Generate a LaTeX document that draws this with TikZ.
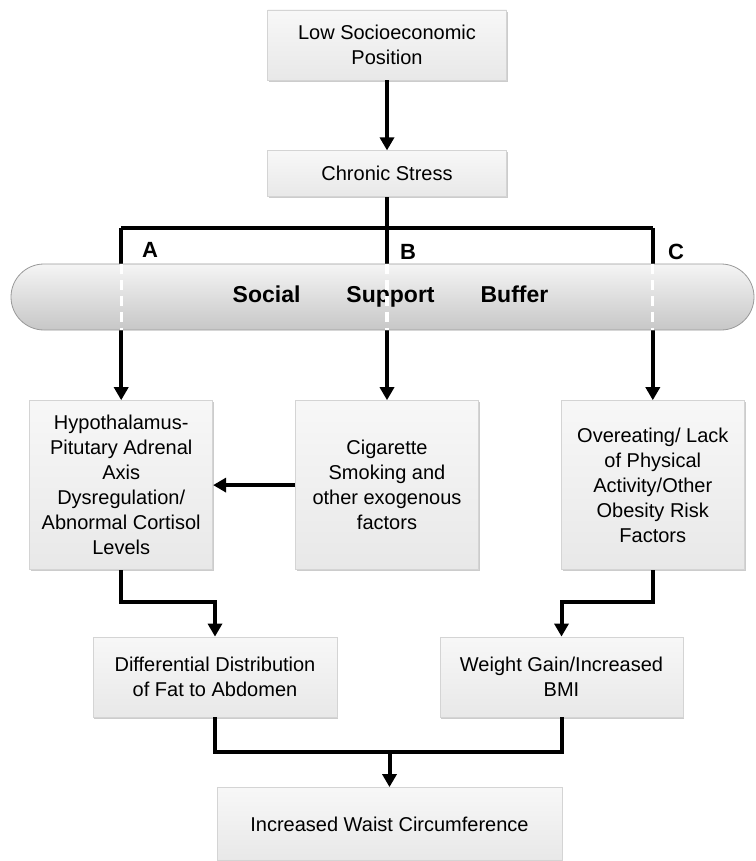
\documentclass[tikz,border=0pt]{standalone}
\usepackage{fontspec}
\setmainfont{Liberation Sans}
\usepackage{xcolor}
\usetikzlibrary{positioning,calc,shadows}
\usetikzlibrary{arrows.meta}

\tikzset{
  box/.style={draw=black!17, top color=black!3, bottom color=black!9, align=center,
    inner sep=0pt, font=\fontsize{10}{12.5}\selectfont,
    drop shadow={shadow xshift=0.6pt, shadow yshift=-0.8pt, opacity=0.2, fill=black}},
  pill/.style={draw=black!40, top color=black!4, bottom color=black!22, rounded corners=16.5pt,
    minimum width=371.5pt, minimum height=33pt, inner sep=0pt,
    font=\fontsize{11.5}{13}\selectfont\bfseries},
  letter/.style={font=\fontsize{11}{12}\selectfont\bfseries, inner sep=0pt},
  link/.style={line width=2pt, black},
  arr/.style={link, -{Triangle[width=7pt,length=6.5pt]}},
  gap/.style={white, line width=1.6pt, dash pattern=on 5pt off 3pt}
}

\begin{document}
\begin{tikzpicture}[x=0.5pt,y=-0.5pt]
        \useasboundingbox (0,0) rectangle (755,861);
        \node (1) [box, minimum width=119.5pt, minimum height=35pt] at (387,45) {Low Socioeconomic\\Position};
        \node (2) [box, minimum width=119.5pt, minimum height=23pt, below = 35pt of 1] {Chronic Stress};
        \node (4) [box, minimum width=91.5pt, minimum height=84.5pt, below = 101.5pt of 2] {Cigarette\\Smoking and\\other exogenous\\factors};
        \node (3) [box, minimum width=91.5pt, minimum height=84.5pt, left = 41pt of 4] {Hypothalamus-\\Pitutary Adrenal\\Axis\\Dysregulation/\\Abnormal Cortisol\\Levels};
        \node (5) [box, minimum width=91.5pt, minimum height=84.5pt, right = 41pt of 4] {Overeating/ Lack\\of Physical\\Activity/Other\\Obesity Risk\\Factors};
        \node (6) [box, minimum width=122pt, minimum height=40pt] at (215,677) {Differential Distribution\\of Fat to Abdomen};
        \node (7) [box, minimum width=121.5pt, minimum height=40pt] at (561.5,677) {Weight Gain/Increased\\BMI};
        \node (8) [box, minimum width=172.5pt, minimum height=36.5pt] at (389.5,824) {Increased Waist Circumference};
        \coordinate (split) at (387,228);
        \coordinate (j1) at ($(6.north)+(0,-35)$);
        \coordinate (j2) at ($(7.north)+(0,-35)$);
        \coordinate (j3) at ($(8.north)+(0,-35)$);
        \draw[arr] (1) -- (2);
        \draw[link] (2) -- (split);
        \draw[link] (split -| 3) -- (split -| 5);
        \draw[arr] (split -| 3) -- (3);
        \draw[arr] (split) -- (split |- 4.north);
        \draw[arr] (split -| 5) -- (5);
        % buffer sits on top of the three branches
        \node (9) [pill] at (382.5,297) {\hspace*{8pt}Social\hspace{23pt}Support\hspace{23pt}Buffer};
        \draw[gap] (9.north -| 3) -- (9.south -| 3);
        \draw[gap] (9.north -| split) -- (9.south -| split);
        \draw[gap] (9.north -| 5) -- (9.south -| 5);
        \node (a) [letter] at (150,250) {A};
        \node (b) [letter] at (408,252) {B};
        \node (c) [letter] at (676,252) {C};
        \draw[arr] (4) -- (3);
        \draw[arr] (3.south) |- (j1) -- (6.north);
        \draw[arr] (5.south) |- (j2) -- (7.north);
        \draw[link] (6.south) |- (j3) -| (7.south);
        \draw[arr] (j3) -- (8.north);
    \end{tikzpicture}
\end{document}
